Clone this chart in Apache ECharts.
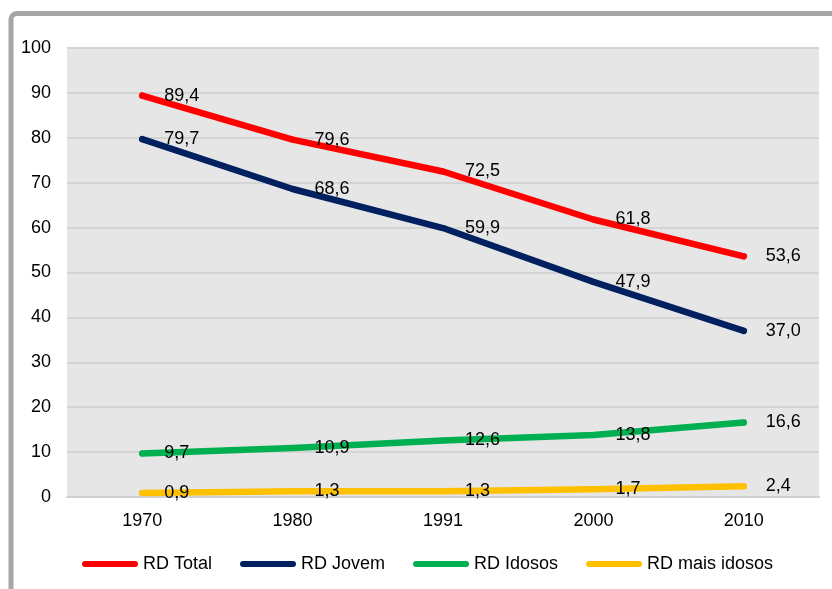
<!DOCTYPE html>
<html>
<head>
<meta charset="utf-8">
<script src="https://cdn.jsdelivr.net/npm/echarts@6/dist/echarts.min.js"></script>
<style>
  html, body { margin: 0; padding: 0; background: #fff; }
  #chart { width: 832px; height: 589px; }
</style>
</head>
<body>
<div id="chart"></div>
<script>
const years = ["1970", "1980", "1991", "2000", "2010"];
const rdTotal = [89.4, 79.6, 72.5, 61.8, 53.6];
const rdJovem = [79.7, 68.6, 59.9, 47.9, 37.0];
const rdIdosos = [9.7, 10.9, 12.6, 13.8, 16.6];
const rdMaisIdosos = [0.9, 1.3, 1.3, 1.7, 2.4];
const seriesNames = ["RD Total", "RD Jovem", "RD Idosos", "RD mais idosos"];

const font = "Liberation Sans, Arial, sans-serif";
const colors = ["#ff0000", "#002060", "#00b050", "#ffc000"];
const legendIcon = "path://M3,0 L53,0 A3,3 0 0 1 53,6 L3,6 A3,3 0 0 1 3,0 Z";

function makeSeries(name, data, color) {
  return {
    name: name,
    type: "line",
    data: data,
    symbol: "circle",
    symbolSize: 6,
    itemStyle: { color: color },
    lineStyle: { width: 6.5, color: color, cap: "round", join: "round" },
    label: {
      show: true,
      position: "right",
      distance: 19,
      color: "#000",
      fontFamily: font,
      fontSize: 18,
      formatter: (p) => p.value.toFixed(1).replace(".", ","),
    },
    emphasis: { disabled: true },
    animation: false,
  };
}

const chart = echarts.init(document.getElementById("chart"));
chart.setOption({
  backgroundColor: "#fff",
  grid: {
    left: 67,
    right: 13,
    top: 48,
    bottom: 92,
    show: true,
    backgroundColor: "#e6e6e6",
    borderWidth: 0,
  },
  legend: {
    left: 77,
    top: 550,
    itemWidth: 56,
    itemHeight: 6,
    itemGap: 28,
    icon: legendIcon,
    textStyle: { fontFamily: font, fontSize: 18, color: "#000" },
    data: seriesNames,
  },
  xAxis: {
    type: "category",
    data: years,
    boundaryGap: true,
    axisLine: { show: true, lineStyle: { color: "#d0d0d0", width: 2 } },
    axisTick: { show: false },
    axisLabel: { fontFamily: font, fontSize: 18, color: "#000", margin: 15 },
  },
  yAxis: {
    type: "value",
    min: 0,
    max: 100,
    interval: 10,
    axisLine: { show: false },
    axisTick: { show: false },
    axisLabel: { fontFamily: font, fontSize: 18, color: "#000", margin: 16 },
    splitLine: { lineStyle: { color: "#d4d4d4", width: 2 } },
  },
  graphic: [
    {
      type: "rect",
      shape: { x: 11, y: 13.5, width: 900, height: 700, r: 6 },
      style: { fill: "none", stroke: "#a6a6a6", lineWidth: 5 },
      silent: true,
    },
  ],
  series: [
    makeSeries(seriesNames[0], rdTotal, colors[0]),
    makeSeries(seriesNames[1], rdJovem, colors[1]),
    makeSeries(seriesNames[2], rdIdosos, colors[2]),
    makeSeries(seriesNames[3], rdMaisIdosos, colors[3]),
  ],
});
</script>
</body>
</html>
